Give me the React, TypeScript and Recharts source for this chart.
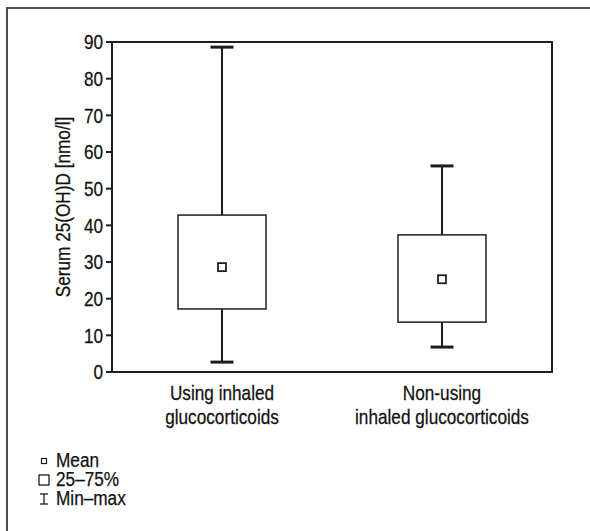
import { ComposedChart, Bar, Line, XAxis, YAxis, ReferenceArea } from "recharts";

const groups = ["Using inhaled\nglucocorticoids", "Non-using\ninhaled glucocorticoids"];
const minVals = [2.7, 6.8];
const q1Vals = [17.2, 13.6];
const q3Vals = [42.8, 37.4];
const maxVals = [88.6, 56.2];
const meanVals = [28.6, 25.3];
const yTicks = [0, 10, 20, 30, 40, 50, 60, 70, 80, 90];

const data = groups.map((name, i) => ({
  name,
  base: minVals[i],
  lower: q1Vals[i] - minVals[i],
  box: q3Vals[i] - q1Vals[i],
  upper: maxVals[i] - q3Vals[i],
  mean: meanVals[i],
}));

// the original uses a narrow grotesque; squeeze Liberation Sans to get close
const font = "'Liberation Sans', Arial, sans-serif";
const FS = 20;
const NARROW = 0.86;
const ink = "#1e1e1e";
const textInk = "#111";
const CAP = 23;

const LowerWhisker = ({ x, y, width, height }: any) => {
  const cx = x + width / 2;
  return (
    <g>
      <line x1={cx} x2={cx} y1={y} y2={y + height} stroke={ink} strokeWidth={2} />
      <line x1={cx - CAP / 2} x2={cx + CAP / 2} y1={y + height} y2={y + height} stroke={ink} strokeWidth={3} />
    </g>
  );
};

const UpperWhisker = ({ x, y, width, height }: any) => {
  const cx = x + width / 2;
  return (
    <g>
      <line x1={cx} x2={cx} y1={y} y2={y + height} stroke={ink} strokeWidth={2} />
      <line x1={cx - CAP / 2} x2={cx + CAP / 2} y1={y} y2={y} stroke={ink} strokeWidth={3} />
    </g>
  );
};

const BoxShape = ({ x, y, width, height }: any) => (
  <rect x={x} y={y} width={width} height={height} fill="#fff" stroke={ink} strokeWidth={1.5} />
);

const MeanDot = ({ cx, cy }: any) => (
  <rect x={cx - 4} y={cy - 4} width={8} height={8} fill="#fff" stroke={ink} strokeWidth={1.8} />
);

const txt = { fontFamily: font, fontSize: FS, fill: textInk, stroke: textInk, strokeWidth: 0.25 };

const GroupTick = ({ x, y, payload }: any) => {
  const lines = String(payload.value).split("\n");
  return (
    <g transform={`translate(${x},${y}) scale(${NARROW},1)`}>
      <text x={0} y={0} textAnchor="middle" {...txt}>
        {lines.map((l, i) => (
          <tspan key={i} x={0} dy={i === 0 ? 20 : 24}>
            {l}
          </tspan>
        ))}
      </text>
    </g>
  );
};

const ValueTick = ({ x, y, payload }: any) => (
  <g transform={`translate(${x - 1},${y}) scale(${NARROW},1)`}>
    <text x={0} y={0} dy="0.36em" textAnchor="end" {...txt}>
      {payload.value}
    </text>
  </g>
);

const YTitle = ({ viewBox }: any) => {
  const cx = viewBox.x + 63;
  const cy = viewBox.y + viewBox.height / 2;
  return (
    <g transform={`translate(${cx},${cy}) rotate(-90) scale(${NARROW},1)`}>
      <text x={0} y={0} dy="0.36em" textAnchor="middle" {...txt}>
        Serum 25(OH)D [nmo/l]
      </text>
    </g>
  );
};

const legendRows = [
  { label: "Mean", kind: "mean" },
  { label: "25\u201375%", kind: "box" },
  { label: "Min\u2013max", kind: "range" },
];

function LegendIcon({ kind }: { kind: string }) {
  return (
    <svg width={12} height={12} style={{ display: "block" }}>
      {kind === "mean" && <rect x={3.5} y={3.5} width={5} height={5} fill="none" stroke={ink} strokeWidth={1.2} />}
      {kind === "box" && <rect x={1} y={1} width={10} height={10} fill="none" stroke={ink} strokeWidth={1.3} />}
      {kind === "range" && (
        <g stroke={ink} strokeWidth={1.3}>
          <line x1={2} x2={10} y1={1} y2={1} />
          <line x1={6} x2={6} y1={1} y2={11} />
          <line x1={2} x2={10} y1={11} y2={11} />
        </g>
      )}
    </svg>
  );
}

export default function App() {
  return (
    <div style={{ position: "absolute", left: 0, top: 0, width: 590, height: 531, overflow: "hidden", background: "#fff" }}>
      <div
        style={{
          position: "absolute",
          left: 6,
          top: 7,
          width: 600,
          height: 540,
          borderTop: "2px solid #4d4d4d",
          borderLeft: "2px solid #4d4d4d",
        }}
      />
      <div style={{ position: "absolute", left: 0, top: 0 }}>
        <ComposedChart width={590} height={531} data={data} margin={{ top: 42, right: 38, left: 0, bottom: 99 }} barSize={88}>
          <XAxis
            dataKey="name"
            tickLine={false}
            axisLine={{ stroke: ink, strokeWidth: 2 }}
            tick={<GroupTick />}
            height={60}
            interval={0}
          />
          <YAxis
            domain={[0, 90]}
            ticks={yTicks}
            width={112}
            tickSize={6}
            tickLine={{ stroke: ink, strokeWidth: 2 }}
            axisLine={{ stroke: ink, strokeWidth: 2 }}
            tick={<ValueTick />}
            label={<YTitle />}
          />
          <ReferenceArea y1={0} y2={90} fill="none" stroke={ink} strokeWidth={2} ifOverflow="visible" />
          <Bar dataKey="base" stackId="b" fill="none" isAnimationActive={false} />
          <Bar dataKey="lower" stackId="b" shape={<LowerWhisker />} isAnimationActive={false} />
          <Bar dataKey="box" stackId="b" shape={<BoxShape />} isAnimationActive={false} />
          <Bar dataKey="upper" stackId="b" shape={<UpperWhisker />} isAnimationActive={false} />
          <Line dataKey="mean" stroke="none" dot={<MeanDot />} activeDot={false} isAnimationActive={false} />
        </ComposedChart>
      </div>
      <div
        style={{
          position: "absolute",
          left: 38,
          top: 451,
          fontFamily: font,
          fontSize: FS,
          color: textInk,
          lineHeight: "19px",
          WebkitTextStroke: "0.25px #111",
        }}
      >
        {legendRows.map((r) => (
          <div key={r.kind} style={{ display: "flex", alignItems: "center", gap: 6, height: 19 }}>
            <LegendIcon kind={r.kind} />
            <span style={{ display: "inline-block", transform: `scaleX(${NARROW})`, transformOrigin: "left center" }}>{r.label}</span>
          </div>
        ))}
      </div>
    </div>
  );
}
